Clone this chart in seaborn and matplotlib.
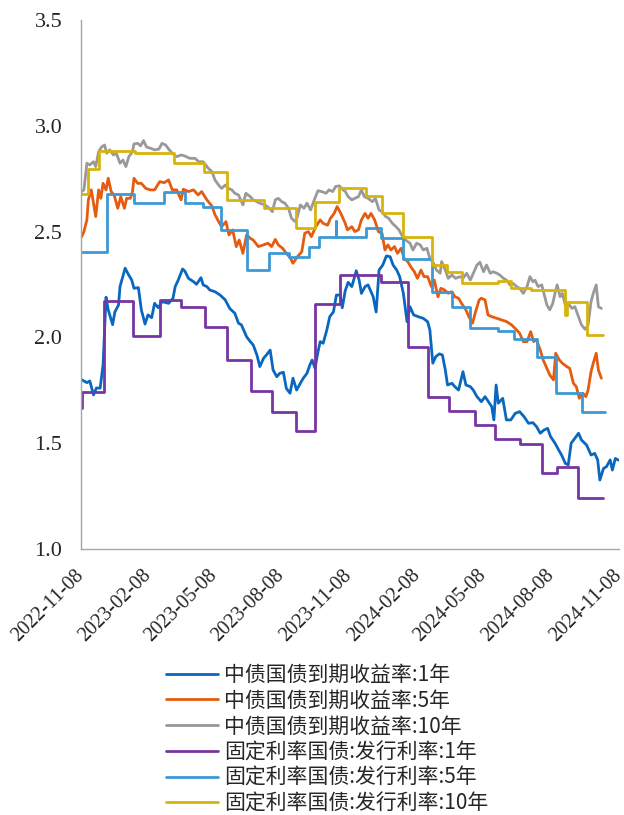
import matplotlib
matplotlib.use("Agg")
import matplotlib.pyplot as plt
import matplotlib.transforms as mtransforms
import pandas as pd
import seaborn as sns

# ---------------- data ----------------
labels = ["中债国债到期收益率:1年", "中债国债到期收益率:5年", "中债国债到期收益率:10年",
          "固定利率国债:发行利率:1年", "固定利率国债:发行利率:5年", "固定利率国债:发行利率:10年"]
colors = ["#0A67BF", "#E55B10", "#999999", "#7536A3", "#3D98D3", "#D8B40A"]
tick_labels = ["2022-11-08", "2023-02-08", "2023-05-08", "2023-08-08", "2023-11-08",
               "2024-02-08", "2024-05-08", "2024-08-08", "2024-11-08"]
y_ticks = [1.0, 1.5, 2.0, 2.5, 3.0, 3.5]

y1_dates = ["2022-11-09","2022-11-16","2022-11-20","2022-11-25","2022-11-29","2022-12-04","2022-12-08",
    "2022-12-12","2022-12-15","2022-12-21","2022-12-24","2022-12-29","2022-12-31","2023-01-07","2023-01-11",
    "2023-01-16","2023-01-19","2023-01-25","2023-01-29","2023-02-01","2023-02-03","2023-02-07","2023-02-12",
    "2023-02-16","2023-02-21","2023-02-26","2023-03-07","2023-03-13","2023-03-16","2023-03-20","2023-03-26",
    "2023-03-29","2023-04-03","2023-04-10","2023-04-14","2023-04-20","2023-04-23","2023-04-28","2023-05-02",
    "2023-05-09","2023-05-16","2023-05-23","2023-05-29","2023-06-05","2023-06-10","2023-06-14","2023-06-21",
    "2023-06-26","2023-06-30","2023-07-05","2023-07-09","2023-07-14","2023-07-18","2023-07-23","2023-07-27",
    "2023-08-01","2023-08-05","2023-08-10","2023-08-14","2023-08-19","2023-08-23","2023-08-28","2023-09-02",
    "2023-09-06","2023-09-11","2023-09-15","2023-09-18","2023-09-22","2023-09-26","2023-09-29","2023-10-03",
    "2023-10-08","2023-10-12","2023-10-17","2023-10-21","2023-10-26","2023-10-29","2023-11-02","2023-11-06",
    "2023-11-11","2023-11-17","2023-11-21","2023-11-24","2023-11-29","2023-12-03","2023-12-10","2023-12-14",
    "2023-12-18","2023-12-23","2023-12-28","2024-01-02","2024-01-06","2024-01-11","2024-01-15","2024-01-20",
    "2024-01-25","2024-01-29","2024-02-03","2024-02-09","2024-02-16","2024-02-22","2024-02-25","2024-02-29",
    "2024-03-04","2024-03-09","2024-03-13","2024-03-17","2024-03-20","2024-03-26","2024-03-30","2024-04-04",
    "2024-04-10","2024-04-14","2024-04-20","2024-04-24","2024-04-29","2024-05-05","2024-05-10","2024-05-16",
    "2024-05-19","2024-05-22","2024-05-25","2024-05-28","2024-06-03","2024-06-08","2024-06-14","2024-06-20",
    "2024-06-26","2024-07-02","2024-07-08","2024-07-14","2024-07-19","2024-07-24","2024-07-29","2024-08-03",
    "2024-08-07","2024-08-13","2024-08-18","2024-08-22","2024-08-27","2024-08-31","2024-09-04","2024-09-09",
    "2024-09-14","2024-09-18","2024-09-25","2024-10-01","2024-10-06","2024-10-10","2024-10-13","2024-10-18",
    "2024-10-22","2024-10-27","2024-10-30","2024-11-03","2024-11-07"]
y1_vals = [1.80,1.786,1.794,1.728,1.761,1.76,1.87,
    2.19,2.13,2.06,2.12,2.153,2.24,2.327,2.30,
    2.27,2.232,2.235,2.13,2.09,2.063,2.106,2.093,
    2.161,2.14,2.169,2.161,2.185,2.24,2.27,2.323,
    2.314,2.279,2.263,2.251,2.282,2.248,2.24,2.224,
    2.216,2.20,2.177,2.137,2.114,2.067,2.059,2.003,
    1.98,1.964,1.917,1.862,1.901,1.917,1.94,1.846,
    1.814,1.83,1.835,1.759,1.736,1.807,1.751,1.783,
    1.807,1.83,1.87,1.893,1.854,1.932,1.98,1.972,
    2.035,2.098,2.12,2.20,2.20,2.14,2.22,2.26,
    2.24,2.315,2.27,2.208,2.24,2.248,2.192,2.12,
    2.318,2.342,2.385,2.381,2.342,2.318,2.287,2.208,
    2.074,2.145,2.106,2.098,2.09,2.074,2.035,1.878,
    1.909,1.922,1.917,1.846,1.775,1.783,1.767,1.751,
    1.838,1.775,1.767,1.751,1.72,1.696,1.72,1.689,
    1.673,1.61,1.775,1.689,1.712,1.61,1.61,1.641,
    1.649,1.625,1.594,1.597,1.578,1.547,1.562,1.57,
    1.531,1.50,1.468,1.444,1.405,1.397,1.50,1.523,
    1.547,1.515,1.491,1.444,1.452,1.421,1.326,1.381,
    1.389,1.421,1.373,1.428,1.42]

y5_dates = ["2022-11-09","2022-11-12","2022-11-16","2022-11-18","2022-11-22","2022-11-25","2022-11-28",
    "2022-12-02","2022-12-05","2022-12-08","2022-12-12","2022-12-15","2022-12-19","2022-12-23","2022-12-28",
    "2023-01-01","2023-01-06","2023-01-09","2023-01-14","2023-01-17","2023-01-19","2023-01-24","2023-01-29",
    "2023-02-04","2023-02-10","2023-02-16","2023-02-23","2023-03-01","2023-03-07","2023-03-12","2023-03-18",
    "2023-03-24","2023-03-27","2023-04-03","2023-04-10","2023-04-16","2023-04-21","2023-04-28","2023-05-05",
    "2023-05-09","2023-05-14","2023-05-18","2023-05-24","2023-05-28","2023-06-02","2023-06-07","2023-06-11",
    "2023-06-16","2023-06-21","2023-06-26","2023-06-30","2023-07-07","2023-07-14","2023-07-20","2023-07-25",
    "2023-07-30","2023-08-03","2023-08-09","2023-08-14","2023-08-19","2023-08-23","2023-08-29","2023-09-04",
    "2023-09-08","2023-09-13","2023-09-17","2023-09-23","2023-09-29","2023-10-03","2023-10-09","2023-10-13",
    "2023-10-18","2023-10-22","2023-10-27","2023-10-30","2023-11-02","2023-11-05","2023-11-11","2023-11-15",
    "2023-11-20","2023-11-24","2023-11-29","2023-12-03","2023-12-07","2023-12-12","2023-12-17","2023-12-22",
    "2023-12-26","2023-12-30","2024-01-03","2024-01-08","2024-01-12","2024-01-17","2024-01-21","2024-01-26",
    "2024-01-30","2024-02-04","2024-02-08","2024-02-13","2024-02-17","2024-02-22","2024-02-27","2024-03-02",
    "2024-03-07","2024-03-11","2024-03-16","2024-03-21","2024-03-26","2024-03-30","2024-04-04","2024-04-08",
    "2024-04-14","2024-04-18","2024-04-23","2024-04-27","2024-05-02","2024-05-05","2024-05-10","2024-05-14",
    "2024-05-19","2024-05-26","2024-06-02","2024-06-08","2024-06-15","2024-06-22","2024-06-26","2024-07-01",
    "2024-07-06","2024-07-11","2024-07-15","2024-07-19","2024-07-24","2024-07-28","2024-08-02","2024-08-06",
    "2024-08-11","2024-08-14","2024-08-19","2024-08-23","2024-08-29","2024-09-02","2024-09-07","2024-09-11",
    "2024-09-15","2024-09-20","2024-09-24","2024-09-27","2024-10-01","2024-10-04","2024-10-08","2024-10-11",
    "2024-10-15"]
y5_vals = [2.476,2.50,2.555,2.65,2.697,2.634,2.571,
    2.697,2.657,2.728,2.697,2.752,2.689,2.673,2.61,
    2.665,2.61,2.657,2.657,2.689,2.752,2.728,2.728,
    2.704,2.697,2.697,2.736,2.731,2.744,2.697,2.697,
    2.65,2.70,2.689,2.697,2.673,2.689,2.65,2.62,
    2.58,2.547,2.523,2.547,2.484,2.508,2.429,2.46,
    2.397,2.484,2.468,2.46,2.429,2.437,2.445,2.429,
    2.463,2.437,2.421,2.397,2.378,2.35,2.381,2.405,
    2.492,2.50,2.476,2.523,2.555,2.539,2.53,2.563,
    2.586,2.618,2.586,2.563,2.539,2.508,2.523,2.50,
    2.508,2.555,2.586,2.563,2.586,2.555,2.50,2.492,
    2.413,2.437,2.413,2.429,2.397,2.421,2.373,2.358,
    2.334,2.31,2.279,2.318,2.287,2.287,2.24,2.271,
    2.192,2.232,2.224,2.208,2.216,2.192,2.185,2.161,
    2.13,2.098,2.067,2.12,2.177,2.185,2.177,2.106,
    2.098,2.09,2.082,2.075,2.059,2.035,2.019,1.98,
    1.98,2.027,1.98,1.988,1.94,1.893,1.854,1.822,
    1.799,1.925,1.893,1.878,1.862,1.854,1.783,1.767,
    1.712,1.736,1.72,1.751,1.838,1.878,1.925,1.846,
    1.807]

y10_dates = ["2022-11-09","2022-11-12","2022-11-16","2022-11-20","2022-11-25","2022-11-28","2022-12-02",
    "2022-12-06","2022-12-10","2022-12-13","2022-12-17","2022-12-22","2022-12-26","2022-12-31","2023-01-04",
    "2023-01-08","2023-01-12","2023-01-17","2023-01-19","2023-01-24","2023-01-28","2023-02-01","2023-02-05",
    "2023-02-11","2023-02-16","2023-02-22","2023-02-26","2023-03-03","2023-03-08","2023-03-12","2023-03-18",
    "2023-03-24","2023-03-29","2023-04-05","2023-04-12","2023-04-17","2023-04-23","2023-04-30","2023-05-05",
    "2023-05-09","2023-05-14","2023-05-18","2023-05-23","2023-05-27","2023-06-01","2023-06-05","2023-06-10",
    "2023-06-16","2023-06-20","2023-06-26","2023-06-30","2023-07-05","2023-07-09","2023-07-16","2023-07-22",
    "2023-07-26","2023-07-30","2023-08-03","2023-08-08","2023-08-12","2023-08-17","2023-08-21","2023-08-26",
    "2023-08-29","2023-09-02","2023-09-07","2023-09-11","2023-09-16","2023-09-21","2023-09-26","2023-10-01",
    "2023-10-07","2023-10-11","2023-10-16","2023-10-20","2023-10-25","2023-10-30","2023-11-02","2023-11-06",
    "2023-11-11","2023-11-15","2023-11-20","2023-11-24","2023-11-28","2023-12-03","2023-12-09","2023-12-13",
    "2023-12-18","2023-12-22","2023-12-27","2023-12-31","2024-01-05","2024-01-10","2024-01-14","2024-01-19",
    "2024-01-23","2024-01-29","2024-02-02","2024-02-07","2024-02-12","2024-02-16","2024-02-21","2024-02-25",
    "2024-03-01","2024-03-05","2024-03-10","2024-03-12","2024-03-17","2024-03-21","2024-03-26","2024-03-31",
    "2024-04-06","2024-04-10","2024-04-15","2024-04-20","2024-04-24","2024-04-29","2024-05-03","2024-05-08",
    "2024-05-12","2024-05-17","2024-05-21","2024-05-26","2024-05-30","2024-06-04","2024-06-08","2024-06-13",
    "2024-06-17","2024-06-22","2024-06-26","2024-07-01","2024-07-06","2024-07-10","2024-07-14","2024-07-17",
    "2024-07-21","2024-07-26","2024-07-29","2024-08-02","2024-08-06","2024-08-10","2024-08-13","2024-08-16",
    "2024-08-20","2024-08-23","2024-08-27","2024-08-31","2024-09-05","2024-09-09","2024-09-14","2024-09-18",
    "2024-09-23","2024-09-27","2024-10-01","2024-10-04","2024-10-08","2024-10-11","2024-10-15"]
y10_vals = [2.689,2.697,2.823,2.815,2.83,2.807,2.878,
    2.90,2.909,2.87,2.886,2.862,2.87,2.823,2.838,
    2.807,2.854,2.878,2.914,2.917,2.905,2.93,2.90,
    2.893,2.886,2.89,2.917,2.909,2.886,2.87,2.854,
    2.862,2.857,2.846,2.846,2.83,2.83,2.799,2.783,
    2.744,2.72,2.704,2.72,2.704,2.697,2.681,2.673,
    2.626,2.681,2.665,2.65,2.641,2.634,2.626,2.61,
    2.594,2.65,2.657,2.641,2.634,2.61,2.563,2.547,
    2.571,2.626,2.61,2.634,2.602,2.65,2.693,2.689,
    2.681,2.697,2.689,2.713,2.716,2.697,2.69,2.665,
    2.65,2.657,2.665,2.697,2.665,2.657,2.641,2.657,
    2.602,2.594,2.571,2.563,2.539,2.523,2.508,2.476,
    2.46,2.445,2.413,2.445,2.437,2.413,2.421,2.373,
    2.35,2.318,2.303,2.358,2.318,2.279,2.295,2.279,
    2.287,2.279,2.303,2.271,2.303,2.342,2.355,2.31,
    2.342,2.303,2.31,2.303,2.295,2.279,2.271,2.248,
    2.255,2.24,2.232,2.208,2.24,2.287,2.263,2.27,
    2.24,2.248,2.208,2.153,2.13,2.161,2.208,2.248,
    2.192,2.208,2.153,2.161,2.137,2.145,2.098,2.059,
    2.038,2.059,2.169,2.208,2.248,2.145,2.137]

iss1_dates = ["2022-11-09","2022-11-10","2022-12-09","2023-01-17","2023-02-24","2023-03-24","2023-04-26",
    "2023-05-26","2023-06-27","2023-07-26","2023-08-27","2023-09-22","2023-10-26","2023-12-21","2024-01-26",
    "2024-02-23","2024-03-22","2024-04-26","2024-05-23","2024-06-27","2024-07-26","2024-08-16","2024-09-13",
    "2024-10-17"]
iss1_vals = [1.666,1.74,2.17,2.007,2.175,2.144,2.048,
    1.892,1.747,1.649,1.558,2.158,2.295,2.26,1.956,
    1.72,1.652,1.587,1.52,1.496,1.358,1.386,1.24,
    1.24]

iss5_dates = ["2022-11-09","2022-12-14","2023-01-19","2023-03-01","2023-03-29","2023-04-23","2023-05-17",
    "2023-06-21","2023-07-22","2023-08-17","2023-09-14","2023-09-28","2023-10-20","2023-10-21","2023-11-30",
    "2023-12-21","2024-01-19","2024-02-28","2024-03-26","2024-04-19","2024-05-28","2024-06-19","2024-07-19",
    "2024-08-14","2024-09-19","2024-10-20"]
iss5_vals = [2.405,2.678,2.634,2.686,2.634,2.615,2.508,
    2.318,2.397,2.378,2.426,2.473,2.55,2.476,2.518,
    2.468,2.369,2.214,2.142,2.046,2.032,1.991,1.906,
    1.736,1.645,1.645]

iss10_dates = ["2022-11-09","2022-11-17","2022-12-02","2023-01-20","2023-03-15","2023-04-24","2023-05-26",
    "2023-07-15","2023-08-27","2023-09-22","2023-10-25","2023-11-30","2023-12-22","2024-01-20","2024-02-28",
    "2024-03-19","2024-04-09","2024-05-28","2024-06-14","2024-07-11","2024-08-27","2024-08-30","2024-09-26",
    "2024-10-17"]
iss10_vals = [2.678,2.795,2.882,2.87,2.826,2.783,2.649,
    2.61,2.518,2.641,2.708,2.668,2.589,2.476,2.34,
    2.307,2.256,2.266,2.235,2.224,2.106,2.166,2.011,
    2.011]

# ---------------- style ----------------
sns.set_style("white")
plt.rcParams["font.family"] = ["Noto Sans CJK SC", "DejaVu Sans"]

fig = plt.figure(figsize=(6.24, 8.15), dpi=100)
ax = fig.add_axes([0.1298, 0.3264, 0.8622, 0.6491])

series = [
    (y1_dates, y1_vals, None),
    (y5_dates, y5_vals, None),
    (y10_dates, y10_vals, None),
    (iss1_dates, iss1_vals, "steps-post"),
    (iss5_dates, iss5_vals, "steps-post"),
    (iss10_dates, iss10_vals, "steps-post"),
]
handles = []
for (d, v, ds), lab, col in zip(series, labels, colors):
    df = pd.DataFrame({"date": pd.to_datetime(d), "value": v})
    kw = {}
    if ds:
        kw["drawstyle"] = ds
    sns.lineplot(data=df, x="date", y="value", ax=ax, color=col, linewidth=2.0,
                 estimator=None, sort=True, legend=False, **kw)
    handles.append(ax.get_lines()[-1])

ax.set_xlim(pd.Timestamp(tick_labels[0]), pd.Timestamp(tick_labels[-1]))
ax.set_ylim(1.0, 3.5)
ax.set_xlabel("")
ax.set_ylabel("")

for s in ["top", "right"]:
    ax.spines[s].set_visible(False)
for s in ["left", "bottom"]:
    ax.spines[s].set_color("#A6A6A6")
    ax.spines[s].set_linewidth(1.0)
ax.tick_params(axis="y", direction="out", length=4.5, width=1, color="#A6A6A6", pad=9)
ax.tick_params(axis="x", direction="in", length=5, width=1, color="#A6A6A6", pad=10)

ax.set_yticks(y_ticks)
ax.set_yticklabels([f"{t:.1f}" for t in y_ticks], family="Liberation Serif", fontsize=16)
ax.set_xticks(pd.to_datetime(tick_labels))
xt = ax.set_xticklabels(tick_labels, family="Liberation Serif", fontsize=14.5,
                        rotation=45, ha="right", va="top", rotation_mode="anchor")
shift = mtransforms.ScaledTranslation(-7 / 100, -3 / 100, fig.dpi_scale_trans)
for t in xt:
    t.set_transform(t.get_transform() + shift)

fig.legend(handles, labels, loc="upper left", bbox_to_anchor=(166 / 624, 1 - 664 / 815),
           frameon=False, handlelength=2.5, handletextpad=0.28,
           labelspacing=0.18, borderpad=0, borderaxespad=0,
           prop={"family": ["Noto Sans CJK SC", "DejaVu Sans"], "size": 15})

fig.savefig("out.png", dpi=100)
